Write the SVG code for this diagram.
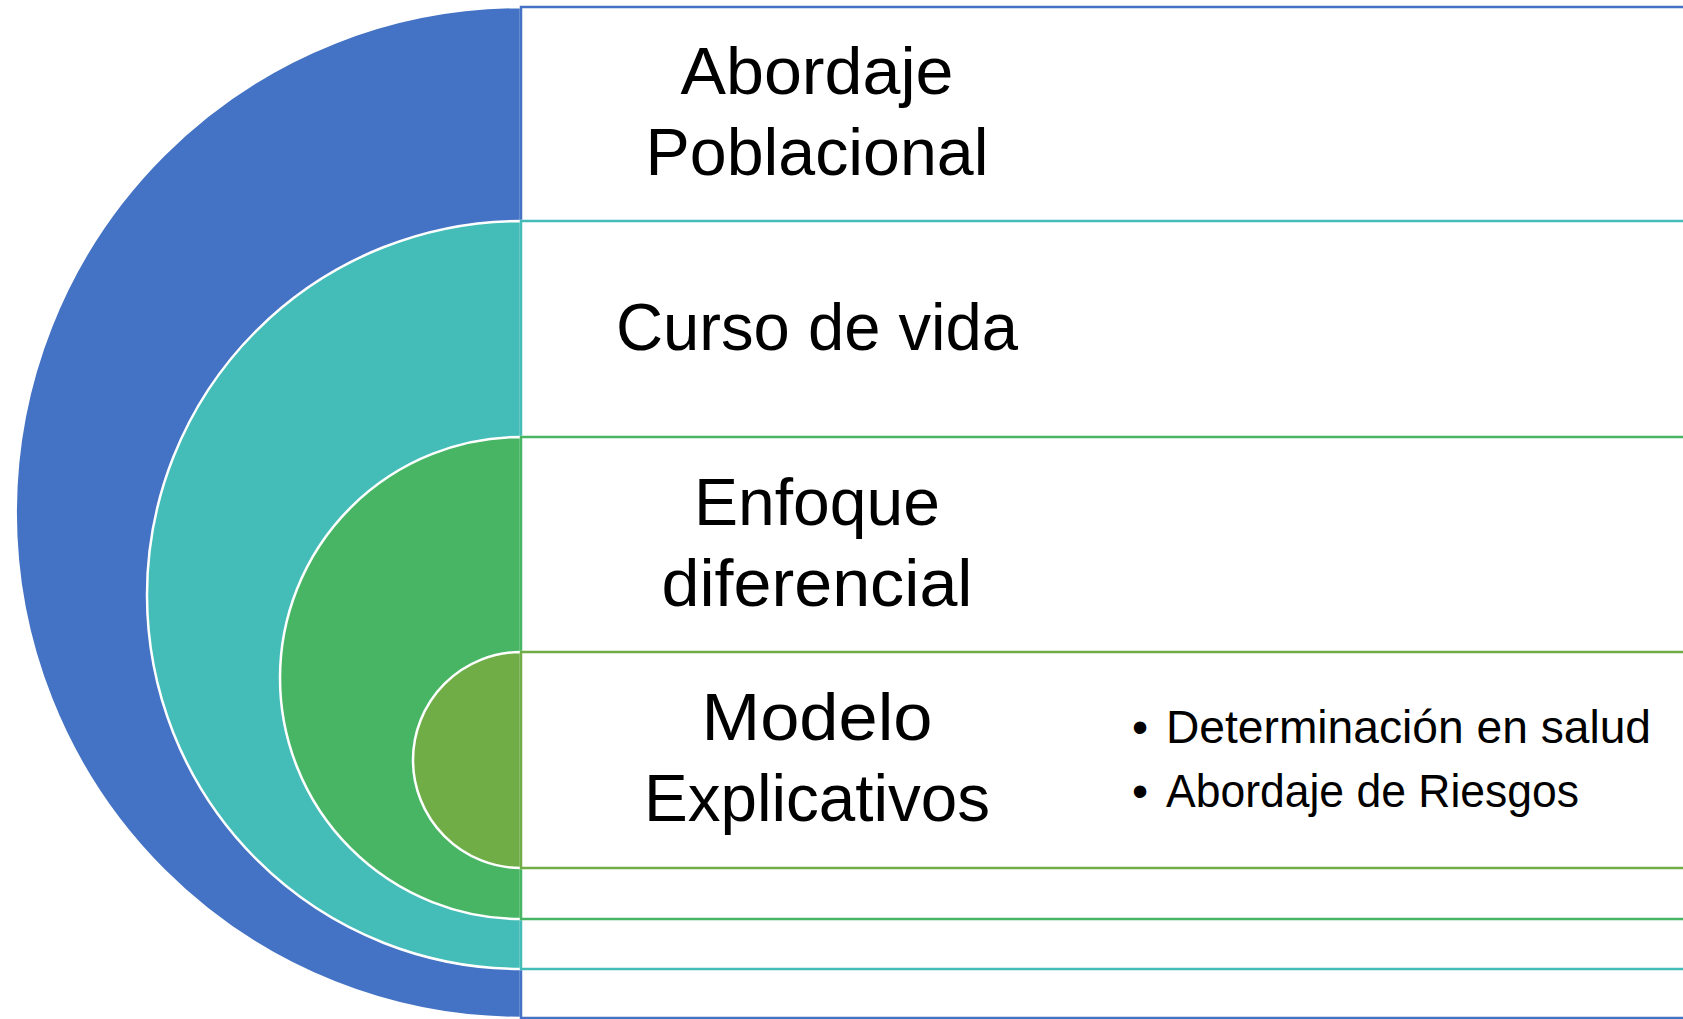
<svg xmlns="http://www.w3.org/2000/svg" width="1683" height="1019" viewBox="0 0 1683 1019">
<style>
.disc{stroke:#ffffff;stroke-width:2.5}
.box{fill:#ffffff;stroke-width:2.5}
.lbl{font-family:"Liberation Sans",Arial,sans-serif;font-size:66px;fill:#000000;text-anchor:middle}
.bul{font-family:"Liberation Sans",Arial,sans-serif;font-size:46px;fill:#000000}
</style>
<rect x="0" y="0" width="1683" height="1019" fill="#ffffff"/>
<g id="node-abordaje">
<path class="disc" fill="#4472C4" d="M521,7 A505.5,505.5 0 0 0 521,1018 Z"/>
<rect class="box" stroke="#4472C4" x="521" y="7" width="1200" height="1011"/>
<text class="lbl" x="817" y="94" textLength="273" lengthAdjust="spacingAndGlyphs">Abordaje</text>
<text class="lbl" x="817" y="175" textLength="343" lengthAdjust="spacingAndGlyphs">Poblacional</text>
</g>
<g id="node-curso">
<path class="disc" fill="#44BDB8" d="M521,221 A374,374 0 0 0 521,969 Z"/>
<rect class="box" stroke="#44BDB8" x="521" y="221" width="1200" height="748"/>
<text class="lbl" x="817" y="350" textLength="402" lengthAdjust="spacingAndGlyphs">Curso de vida</text>
</g>
<g id="node-enfoque">
<path class="disc" fill="#47B564" d="M521,437 A241,241 0 0 0 521,919 Z"/>
<rect class="box" stroke="#47B564" x="521" y="437" width="1200" height="482"/>
<text class="lbl" x="817" y="525" textLength="246" lengthAdjust="spacingAndGlyphs">Enfoque</text>
<text class="lbl" x="817" y="606" textLength="311" lengthAdjust="spacingAndGlyphs">diferencial</text>
</g>
<g id="node-modelo">
<path class="disc" fill="#70AD47" d="M521,652 A108,108 0 0 0 521,868 Z"/>
<rect class="box" stroke="#70AD47" x="521" y="652" width="1200" height="216"/>
<text class="lbl" x="817" y="740" textLength="231" lengthAdjust="spacingAndGlyphs">Modelo</text>
<text class="lbl" x="817" y="821" textLength="346" lengthAdjust="spacingAndGlyphs">Explicativos</text>
<text class="bul" x="1132" y="743">•</text>
<text class="bul" x="1166" y="743" textLength="485" lengthAdjust="spacingAndGlyphs">Determinación en salud</text>
<text class="bul" x="1132" y="807">•</text>
<text class="bul" x="1166" y="807" textLength="413" lengthAdjust="spacingAndGlyphs">Abordaje de Riesgos</text>
</g>
<g id="connectors"/>
</svg>
